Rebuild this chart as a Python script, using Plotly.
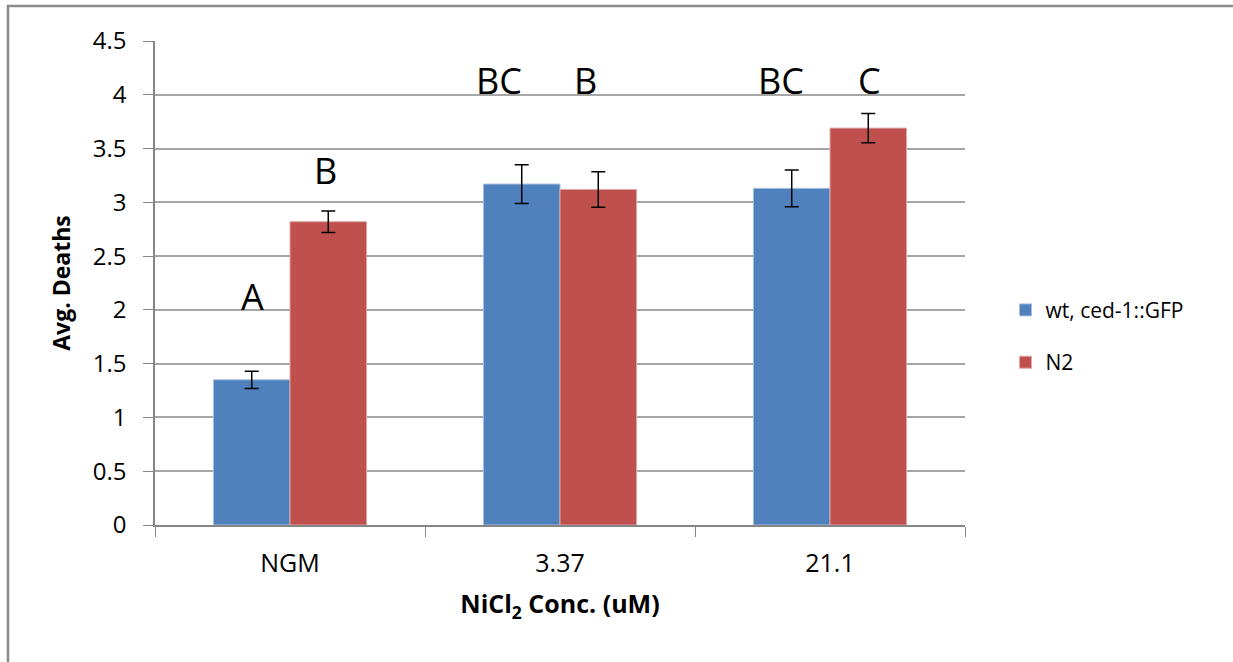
import plotly.graph_objects as go

categories = ["NGM", "3.37", "21.1"]
wt_values = [1.35, 3.17, 3.13]
wt_errors = [0.08, 0.18, 0.17]
n2_values = [2.82, 3.12, 3.69]
n2_errors = [0.10, 0.165, 0.135]
series_names = ["wt, ced-1::GFP", "N2"]
wt_letters = ["A", "BC", "BC"]
n2_letters = ["B", "B", "C"]
wt_letter_y = [2.12, 4.13, 4.13]
n2_letter_y = [3.30, 4.13, 4.13]
y_ticks = [0, 0.5, 1, 1.5, 2, 2.5, 3, 3.5, 4, 4.5]
y_tick_text = ["0", "0.5", "1", "1.5", "2", "2.5", "3", "3.5", "4", "4.5"]

# pixel offsets of the letter labels from the category centre (style)
wt_letter_shift = [-38, -61, -49]
n2_letter_shift = [35, 25, 39]

FONT = "Open Sans"
BLUE = "#4F81BD"
RED = "#C0504D"

fig = go.Figure()
fig.add_trace(go.Bar(
    x=categories, y=wt_values, name=series_names[0], legendgroup="a",
    marker=dict(color=BLUE, line=dict(color="#A7C0DE", width=1)),
    error_y=dict(type="data", array=wt_errors, color="black", thickness=1.5, width=7),
))
fig.add_trace(go.Bar(
    x=categories, y=n2_values, name=series_names[1], legendgroup="b",
    marker=dict(color=RED, line=dict(color="#DFA7A6", width=1)),
    error_y=dict(type="data", array=n2_errors, color="black", thickness=1.5, width=7),
))

for i, c in enumerate(categories):
    fig.add_annotation(x=i, y=wt_letter_y[i], xref="x", yref="y", text=wt_letters[i],
                       showarrow=False, xshift=wt_letter_shift[i], yanchor="middle",
                       font=dict(family=FONT, size=36, color="black"))
    fig.add_annotation(x=i, y=n2_letter_y[i], xref="x", yref="y", text=n2_letters[i],
                       showarrow=False, xshift=n2_letter_shift[i], yanchor="middle",
                       font=dict(family=FONT, size=36, color="black"))

# outer chart border
fig.add_shape(type="rect", xref="paper", yref="paper",
              x0=-0.1815, x1=1.34, y0=-0.4, y1=1.0723,
              line=dict(color="#8A8A8A", width=2.5), layer="above")

fig.update_layout(
    width=1233, height=662,
    margin=dict(l=155, r=268, t=41, b=137),
    paper_bgcolor="white", plot_bgcolor="white",
    barmode="group", bargap=0.433, bargroupgap=0,
    font=dict(family=FONT, color="black"),
    showlegend=True,
    legend=dict(x=1.05, y=0.39, xanchor="left", yanchor="middle",
                traceorder="grouped", tracegroupgap=22,
                font=dict(family=FONT, size=21, color="black"),
                itemwidth=30),
    xaxis=dict(
        type="category", range=[-0.5, 2.5], autorange=False,
        showline=True, linecolor="#868686", linewidth=1.5,
        ticks="outside", tickson="boundaries", ticklen=10, tickcolor="#868686",
        tickfont=dict(family=FONT, size=25, color="black"), tickangle=0,
        ticklabelstandoff=15,
        title=dict(text="<b>NiCl<sub>2</sub> Conc. (uM)</b>", standoff=18,
                   font=dict(family=FONT, size=25, color="black")),
    ),
    yaxis=dict(
        range=[0, 4.5], tickvals=y_ticks, ticktext=y_tick_text,
        showline=True, linecolor="#868686", linewidth=1.5,
        ticks="outside", ticklen=10, tickcolor="#868686",
        showgrid=True, gridcolor="#A6A6A6", gridwidth=1.5,
        zeroline=False,
        tickfont=dict(family=FONT, size=24, color="black"),
        ticklabelstandoff=12,
        title=dict(text="<b>Avg. Deaths</b>", standoff=16,
                   font=dict(family=FONT, size=23, color="black")),
    ),
)

fig.write_html("out.html")
